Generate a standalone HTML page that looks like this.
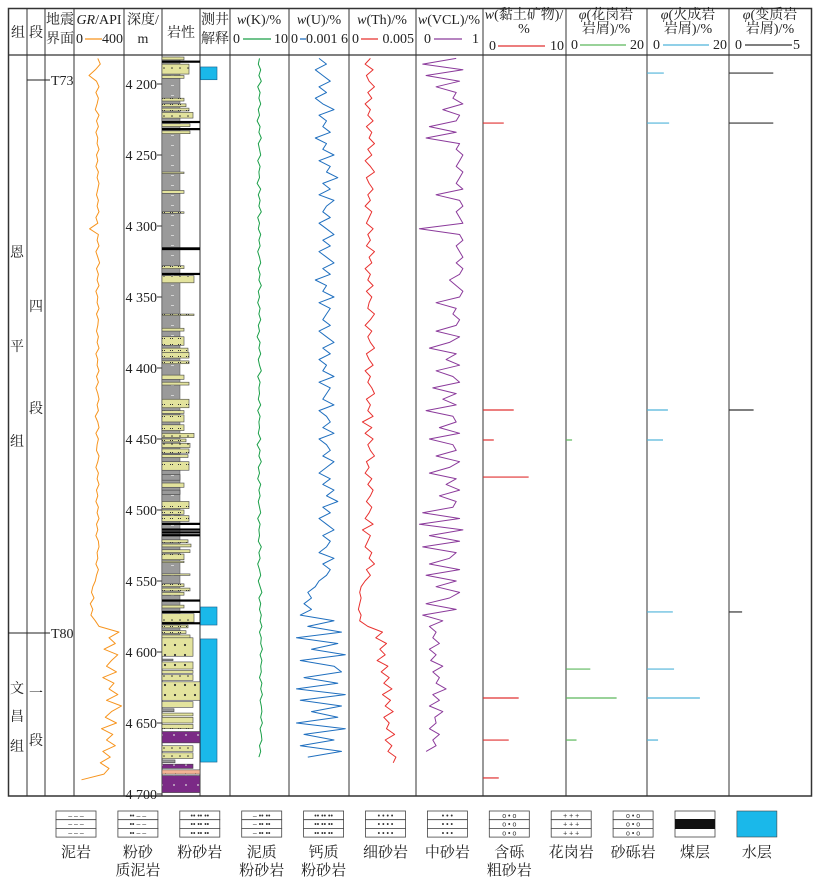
<!DOCTYPE html>
<html><head><meta charset="utf-8">
<style>
html,body{margin:0;padding:0;background:#fff;}
svg{display:block;}
text{font-family:"Liberation Serif","Noto Serif CJK SC",serif;font-size:14px;fill:#222;}
.it{font-style:italic;}
</style></head>
<body>
<svg id="chart" width="821" height="877" viewBox="0 0 821 877" xmlns="http://www.w3.org/2000/svg">
<defs>
  <pattern id="pSilt" width="8" height="6" patternUnits="userSpaceOnUse"><rect width="8" height="6" fill="#e3e39d"/><rect x="2" y="2" width="1" height="1" fill="#333"/><rect x="4" y="2" width="1" height="1" fill="#333"/></pattern>
  <pattern id="pFine" width="8" height="8" patternUnits="userSpaceOnUse"><rect width="8" height="8" fill="#e3e39d"/><circle cx="4" cy="4" r="0.8" fill="#333"/></pattern>
  <pattern id="pMed" width="10" height="10" patternUnits="userSpaceOnUse"><rect width="10" height="10" fill="#e3e39d"/><circle cx="5" cy="5" r="1.1" fill="#333"/></pattern>
  <pattern id="pMud" width="12" height="10" patternUnits="userSpaceOnUse"><rect width="12" height="10" fill="#9a9a9a"/><rect x="3" y="5" width="3" height="0.7" fill="#eee"/></pattern>
  <pattern id="pPurple" width="12" height="10" patternUnits="userSpaceOnUse"><rect width="12" height="10" fill="#7b2a86"/><circle cx="6" cy="5" r="0.9" fill="#ddd"/></pattern>
  <pattern id="pPink" width="10" height="10" patternUnits="userSpaceOnUse"><rect width="10" height="10" fill="#f3b394"/><rect x="4" y="4.5" width="3" height="0.8" fill="#333"/><rect x="5" y="3.5" width="0.8" height="3" fill="#333"/></pattern>
</defs>
<g id="grid"></g>
<g id="header">
  <text x="18" y="37" text-anchor="middle">组</text>
  <text x="36" y="37" text-anchor="middle">段</text>
  <text x="60" y="24" text-anchor="middle">地震</text>
  <text x="60" y="43" text-anchor="middle">界面</text>
  <text x="99" y="24" text-anchor="middle"><tspan class="it">GR</tspan>/API</text>
  <text x="76" y="43">0</text>
  <line x1="85" y1="39" x2="102" y2="39" stroke="#f7941d" stroke-width="1.3"/>
  <text x="123" y="43" text-anchor="end">400</text>
  <text x="143" y="24" text-anchor="middle">深度/</text>
  <text x="143" y="43" text-anchor="middle">m</text>
  <text x="181" y="37" text-anchor="middle">岩性</text>
  <text x="215" y="24" text-anchor="middle">测井</text>
  <text x="215" y="43" text-anchor="middle">解释</text>
  <text x="259" y="24" text-anchor="middle"><tspan class="it">w</tspan>(K)/%</text>
  <text x="233" y="43">0</text>
  <line x1="243" y1="39" x2="271" y2="39" stroke="#1a9f48" stroke-width="1.3"/>
  <text x="288" y="43" text-anchor="end">10</text>
  <text x="319" y="24" text-anchor="middle"><tspan class="it">w</tspan>(U)/%</text>
  <text x="291" y="43">0</text>
  <line x1="300" y1="39" x2="306" y2="39" stroke="#1f6fbf" stroke-width="1.3"/>
  <text x="348" y="43" text-anchor="end">0.001 6</text>
  <text x="382" y="24" text-anchor="middle"><tspan class="it">w</tspan>(Th)/%</text>
  <text x="352" y="43">0</text>
  <line x1="361" y1="39" x2="378" y2="39" stroke="#e8312f" stroke-width="1.3"/>
  <text x="414" y="43" text-anchor="end">0.005</text>
  <text x="449" y="24" text-anchor="middle"><tspan class="it">w</tspan>(VCL)/%</text>
  <text x="424" y="43">0</text>
  <line x1="434" y1="39" x2="462" y2="39" stroke="#8b3a9b" stroke-width="1.3"/>
  <text x="479" y="43" text-anchor="end">1</text>
  <text x="524" y="19" text-anchor="middle"><tspan class="it">w</tspan>(黏土矿物)/</text>
  <text x="524" y="33" text-anchor="middle">%</text>
  <text x="489" y="50">0</text>
  <line x1="498" y1="46" x2="545" y2="46" stroke="#e03030" stroke-width="1.3"/>
  <text x="564" y="50" text-anchor="end">10</text>
  <text x="606" y="19" text-anchor="middle"><tspan class="it">φ</tspan>(花岗岩</text>
  <text x="606" y="33" text-anchor="middle">岩屑)/%</text>
  <text x="571" y="49">0</text>
  <line x1="580" y1="45" x2="626" y2="45" stroke="#5cb85c" stroke-width="1.3"/>
  <text x="644" y="49" text-anchor="end">20</text>
  <text x="688" y="19" text-anchor="middle"><tspan class="it">φ</tspan>(火成岩</text>
  <text x="688" y="33" text-anchor="middle">岩屑)/%</text>
  <text x="653" y="49">0</text>
  <line x1="663" y1="45" x2="709" y2="45" stroke="#4fb3d9" stroke-width="1.3"/>
  <text x="727" y="49" text-anchor="end">20</text>
  <text x="770" y="19" text-anchor="middle"><tspan class="it">φ</tspan>(变质岩</text>
  <text x="770" y="33" text-anchor="middle">岩屑)/%</text>
  <text x="735" y="49">0</text>
  <line x1="745" y1="45" x2="792" y2="45" stroke="#333" stroke-width="1.3"/>
  <text x="800" y="49" text-anchor="end">5</text>
</g>
<g id="strat">
  <text x="17" y="257" text-anchor="middle">恩</text>
  <text x="17" y="351" text-anchor="middle">平</text>
  <text x="17" y="446" text-anchor="middle">组</text>
  <text x="36" y="311" text-anchor="middle">四</text>
  <text x="36" y="413" text-anchor="middle">段</text>
  <text x="17" y="693" text-anchor="middle">文</text>
  <text x="17" y="721" text-anchor="middle">昌</text>
  <text x="17" y="751" text-anchor="middle">组</text>
  <text x="36" y="698" text-anchor="middle">一</text>
  <text x="36" y="745" text-anchor="middle">段</text>
  <line x1="27" y1="80" x2="50" y2="80" stroke="#222"/>
  <text x="51" y="85">T73</text>
  <line x1="8" y1="633" x2="50" y2="633" stroke="#222"/>
  <text x="51" y="638">T80</text>
</g>
<g id="litho"></g>
<g id="curves"></g>
<g id="bars"></g>
<g id="legend"></g>
</svg>
<script>
// ---- data ----
const depthStart = 4182;
const depthStep = 4;
const depthTicks = [4200,4250,4300,4350,4400,4450,4500,4550,4600,4650,4700];
const depthTickLabels = ["4 200","4 250","4 300","4 350","4 400","4 450","4 500","4 550","4 600","4 650","4 700"];
const grValues = [190,210,170,120,180,200,175,195,185,170,200,180,195,175,190,185,
 200,180,190,175,195,185,200,190,180,195,185,200,175,190,125,195,
 185,200,175,190,205,180,195,185,200,175,190,185,200,180,195,190,
 180,195,185,200,175,190,185,200,180,195,175,190,200,185,195,170,
 190,200,175,195,185,180,200,190,175,195,185,200,180,190,175,195,
 185,200,180,190,175,195,200,185,190,175,195,180,170,150,140,160,
 130,150,135,170,200,360,280,330,240,350,300,260,340,230,320,280,
 350,260,380,300,250,340,220,310,260,330,230,290,210,280,240,60];
const kValues = [5.0,4.8,5.2,4.9,5.3,4.7,5.1,4.9,5.2,4.8,5.0,4.6,5.1,4.9,5.3,4.8,
 5.0,5.2,4.7,5.1,4.9,5.0,4.6,5.2,4.8,5.1,4.9,5.3,4.7,5.0,4.8,5.2,
 4.9,5.1,4.7,5.0,5.2,4.8,5.1,4.9,5.3,4.8,5.0,4.7,5.1,4.9,5.2,4.8,
 5.0,4.6,5.1,4.9,5.2,4.8,5.0,5.3,4.7,5.1,4.9,5.0,4.8,5.2,4.7,5.1,
 4.9,5.0,4.8,5.2,4.6,5.1,4.9,5.3,4.8,5.0,4.7,5.2,4.9,5.1,4.8,5.0,
 5.2,4.7,5.1,4.9,5.0,4.8,5.3,4.9,5.1,4.7,5.0,5.2,4.8,5.1,5.4,4.9,
 5.2,5.0,5.3,5.1,5.4,5.0,5.3,5.2,5.5,5.1,5.4,5.2,5.3,5.0,5.4,5.2,
 5.5,5.1,5.3,5.4,5.2,5.5,5.1,5.3,5.4,5.0,5.2,4.9,null,null,null,null];
const uValues = [8,10,7,9,11,8,10,7,9,12,8,10,9,11,7,10,
 9,12,8,11,10,13,9,11,8,12,10,9,11,8,10,12,
 9,11,8,10,12,9,11,7,10,9,12,8,11,10,9,11,
 8,10,12,9,11,8,10,9,12,8,11,10,9,12,8,10,
 11,9,12,8,10,11,9,12,10,8,11,9,12,10,13,9,
 11,8,10,12,9,11,10,8,12,9,11,10,8,7,5,6,
 4,6,3,12,5,14,2,13,6,15,3,12,14,4,13,2,
 15,3,14,6,13,2,15,4,12,3,14,5,null,null,null,null]; // units of 1e-4 %
const thValues = [1.6,1.2,1.8,1.3,1.5,1.9,1.4,1.7,1.2,1.6,1.4,1.8,1.3,1.7,1.5,1.9,
 1.4,1.7,1.2,1.6,1.9,1.3,1.5,1.8,1.4,1.6,1.2,1.7,1.5,1.3,1.8,1.4,
 1.6,1.3,1.9,1.5,1.7,1.2,1.6,1.4,1.8,1.3,1.7,1.5,1.4,1.9,1.6,1.2,
 1.7,1.4,1.6,1.9,1.3,1.5,1.8,1.2,1.6,1.4,1.7,1.9,1.3,1.6,1.4,1.8,
 1.0,1.7,1.2,1.8,1.4,1.6,1.9,1.3,1.5,1.2,1.7,1.4,1.8,1.6,1.3,1.7,
 1.5,1.2,1.8,1.0,1.6,1.4,1.2,1.7,1.5,1.9,1.3,1.6,1.2,0.9,0.8,0.9,
 0.8,0.7,0.9,0.8,1.4,2.5,2.0,2.8,2.3,2.7,2.1,2.9,2.4,3.0,2.6,3.2,
 2.5,3.1,2.7,3.3,2.6,3.0,2.8,3.4,2.7,3.2,2.9,3.5,3.3,null,null,null]; // units of 1e-3 %
const vclValues = [0.6,0.1,0.7,0.15,0.65,0.3,0.6,0.55,0.7,0.4,0.65,0.6,0.2,0.6,0.15,0.65,
 0.6,0.7,0.65,0.6,0.7,0.65,0.6,0.7,0.3,0.65,0.7,0.6,0.65,0.7,0.05,0.65,
 0.7,0.6,0.65,0.7,0.6,0.7,0.65,0.5,0.6,0.7,0.65,0.3,0.6,0.55,0.65,0.6,
 0.3,0.65,0.5,0.2,0.6,0.45,0.65,0.3,0.55,0.65,0.25,0.6,0.4,0.6,0.15,0.55,
 0.6,0.35,0.65,0.2,0.55,0.6,0.3,0.65,0.5,0.2,0.6,0.45,0.65,0.35,0.6,0.55,
 0.1,0.65,0.05,0.7,0.2,0.65,0.1,0.6,0.5,0.2,0.65,0.15,0.6,0.3,0.65,0.5,
 0.15,0.6,0.1,0.4,0.2,0.3,0.25,0.35,0.2,0.3,0.22,0.4,0.25,0.35,0.3,0.45,
 0.25,0.35,0.2,0.4,0.28,0.3,0.2,0.35,0.25,0.3,0.15,null,null,null,null,null];
const clayDepths = [4227.5,4429.6,4450.7,4476.8,4632.4,4662,4688.7];
const clayValues = [2.5,3.7,1.3,5.5,4.3,3.1,1.9];
const graniteDepths = [4450.7,4612,4632.4,4662];
const graniteValues = [1.5,6,12.5,2.6];
const igneousDepths = [4192.3,4227.5,4429.6,4450.7,4571.8,4612,4632.4,4662];
const igneousValues = [4.1,5.4,5.1,3.9,6.3,6.6,12.9,2.7];
const metaDepths = [4192.3,4227.5,4429.6,4571.8];
const metaValues = [2.7,2.7,1.5,0.8];
const waterTops = [4188,4568.3,4590.8];
const waterBottoms = [4197,4581,4677.5];
const bedTops = [4181,4183.5,4186,4194,4210,4214,4217,4220,4226,4228,4231,4233,4262,4275,4290,4315,4328,4333,4335,4362,4372,4378,4386,4389,4395,4405,4410,4422,4430,4433,4440,4446,4450,4453,4457,4461,4466,4475,4481,4486,4494,4500,4504,4509,4513,4515,4517,4521,4524,4528,4531,4536,4545,4552,4555,4558,4563,4567,4571,4573,4579,4581,4585,4588,4590,4605,4607,4613,4616,4621,4635,4640,4643,4646,4651,4656,4666,4671,4676,4679,4683,4687];
const bedBottoms = [4183,4185,4193,4196,4212,4216,4219,4224,4227,4230,4232,4235,4263,4277,4291,4317,4330,4334,4340,4363,4374,4384,4389,4393,4397,4408,4412,4428,4432,4438,4444,4449,4452,4456,4460,4463,4472,4479,4484,4489,4499,4503,4508,4510,4514,4516,4518,4523,4526,4530,4535,4537,4546,4554,4557,4560,4564,4569,4572,4579,4580,4583,4587,4590,4603,4606,4612,4615,4620,4634,4639,4642,4645,4650,4654,4664,4670,4675,4678,4682,4686,4699];
const bedTypes = ['silt','coal','fine','silt','silt','silt','silt','fine','coal','silt','coal','silt','silt','silt','silt','coal','silt','coal','fine','silt','silt','silt','silt','silt','silt','silt','silt','silt','silt','silt','silt','fine','silt','fine','silt','silt','silt','mud','silt','mud','silt','silt','silt','coal','coal','coal','coal','silt','fine','silt','silt','silt','silt','silt','silt','silt','coal','silt','coal','fine','coal','silt','silt','silt','med','mud','med','silt','fine','med','fine','mud','silt','fine','silt','purple','fine','fine','mud','purple','pink','purple'];
const bedWidths = [22,38,27,22,22,24,27,31,38,28,38,28,22,22,22,38,22,38,32,32,22,22,26,27,27,22,27,27,22,22,22,32,24,28,27,26,27,18,22,18,27,22,27,38,38,38,38,26,29,28,22,22,28,22,28,22,38,22,38,32,38,26,24,28,31,11,31,31,31,38,31,12,31,31,31,38,31,31,13,31,38,38];

// ---- scales ----
const svg = document.getElementById('chart');
const NS = 'http://www.w3.org/2000/svg';
const yOf = d => 84 + (d - 4200) * 1.42;
const xScale = (x0, w, max) => v => x0 + v / max * w;
function el(tag, attrs, parent) {
  const e = document.createElementNS(NS, tag);
  for (const k in attrs) e.setAttribute(k, attrs[k]);
  parent.appendChild(e);
  return e;
}

// ---- grid ----
const grid = document.getElementById('grid');
const colXs = [27,45,74,124,162,200,230,289,349,416,483,566,647,729];
colXs.forEach(x => {
  const l = el('line', {x1:x, y1:8, x2:x, y2:796, stroke:'#333', 'stroke-width':1}, grid);
  
  
});
const frame = el('rect', {x:8.5, y:8.5, width:803, height:787.5, fill:'none', stroke:'#333', 'stroke-width':1.5}, grid);


const hdrLine = el('line', {x1:8, y1:55, x2:812, y2:55, stroke:'#333', 'stroke-width':1.2}, grid);



// ---- depth ticks ----
depthTicks.forEach((d, i) => {
  const t = el('line', {x1:157, y1:yOf(d), x2:162, y2:yOf(d), stroke:'#333'}, grid);
  
  
  const lb = el('text', {x:157, y:yOf(d)+5, 'text-anchor':'end'}, grid);
  lb.textContent = depthTickLabels[i];
  
  
});

// ---- lithology ----
const litho = document.getElementById('litho');
const mudBg = el('rect', {x:162, y:yOf(4181), width:18, height:yOf(4590)-yOf(4181), fill:'url(#pMud)', stroke:'#555', 'stroke-width':0.5}, litho);


const fills = {silt:'url(#pSilt)', fine:'url(#pFine)', med:'url(#pMed)', mud:'url(#pMud)', coal:'#000', purple:'url(#pPurple)', pink:'url(#pPink)'};
bedTops.forEach((t, i) => {
  const type = bedTypes[i];
  const h = Math.max(yOf(bedBottoms[i]) - yOf(t), type === 'coal' ? 2.2 : 1.5);
  const r = el('rect', {x:162, y:yOf(t), width:bedWidths[i], height:h, fill:fills[type], stroke: type==='coal' ? 'none' : '#444', 'stroke-width':0.6}, litho);
  
  
});
waterTops.forEach((t, i) => {
  const r = el('rect', {x:200.5, y:yOf(t), width:16.5, height:yOf(waterBottoms[i])-yOf(t), fill:'#1ab8ea', stroke:'#1a5e8a', 'stroke-width':0.6}, litho);
  
  
});

// ---- curves ----
const curves = document.getElementById('curves');
function drawCurve(values, x0, w, max, color, name) {
  const sx = xScale(x0, w, max);
  let dstr = '', pen = false;
  values.forEach((v, i) => {
    if (v === null) { pen = false; return; }
    const x = sx(v), y = yOf(depthStart + i * depthStep);
    dstr += (pen ? 'L' : 'M') + x.toFixed(1) + ' ' + y.toFixed(1) + ' ';
    pen = true;
  });
  const p = el('path', {d:dstr, fill:'none', stroke:color, 'stroke-width':1, 'stroke-linejoin':'round'}, curves);
  
  
}
drawCurve(grValues, 74, 50, 400, '#f7941d', 'gr-curve');
drawCurve(kValues, 230, 59, 10, '#1a9f48', 'k-curve');
drawCurve(uValues, 289, 60, 16, '#1f6fbf', 'u-curve');
drawCurve(thValues, 349, 67, 5, '#e8312f', 'th-curve');
drawCurve(vclValues, 416, 67, 1, '#8b3a9b', 'vcl-curve');

// ---- bars ----
const bars = document.getElementById('bars');
function drawBars(depths, values, x0, w, max, color, name) {
  const sx = xScale(x0, w, max);
  depths.forEach((d, i) => {
    const b = el('line', {x1:x0, y1:yOf(d), x2:sx(values[i]), y2:yOf(d), stroke:color, 'stroke-width':1.2}, bars);
    
    
  });
}
drawBars(clayDepths, clayValues, 483, 83, 10, '#e03030', 'clay-bar');
drawBars(graniteDepths, graniteValues, 566, 81, 20, '#5cb85c', 'granite-bar');
drawBars(igneousDepths, igneousValues, 647, 82, 20, '#4fb3d9', 'igneous-bar');
drawBars(metaDepths, metaValues, 729, 82, 5, '#333', 'metamorphic-bar');

// ---- legend ----
const legend = document.getElementById('legend');
const legNames = ['泥岩','粉砂|质泥岩','粉砂岩','泥质|粉砂岩','钙质|粉砂岩','细砂岩','中砂岩','含砾|粗砂岩','花岗岩','砂砾岩','煤层','水层'];
const legMarks = ['– – –','•• – –','•• •• ••','– •• ••','•• •• ••','• • • •','• • •','o • o','+ + +','o • o','',''];
legNames.forEach((n, i) => {
  const cx = 76 + i * 61.9;
  const g = el('g', {}, legend);
  
  
  if (i === 11) {
    el('rect', {x:cx-20, y:811, width:40, height:26, fill:'#1ab8ea', stroke:'#444', 'stroke-width':0.6}, g);
  } else if (i === 10) {
    el('rect', {x:cx-20, y:811, width:40, height:26, fill:'#fff', stroke:'#444', 'stroke-width':0.8}, g);
    el('rect', {x:cx-20, y:819, width:40, height:10, fill:'#111'}, g);
  } else {
    for (let r = 0; r < 3; r++) {
      el('rect', {x:cx-20, y:811+r*8.7, width:40, height:8.7, fill:'#fff', stroke:'#444', 'stroke-width':0.8}, g);
      const mt = el('text', {x:cx, y:818+r*8.7, 'text-anchor':'middle', style:'font-size:7px;font-family:Liberation Sans,sans-serif;fill:#333'}, g);
      mt.textContent = legMarks[i];
    }
  }
  const parts = n.split('|');
  parts.forEach((p, j) => {
    const t = el('text', {x:cx, y:857 + j*18, 'text-anchor':'middle', style:'font-size:15px'}, g);
    t.textContent = p;
  });
});
</script>
</body></html>
